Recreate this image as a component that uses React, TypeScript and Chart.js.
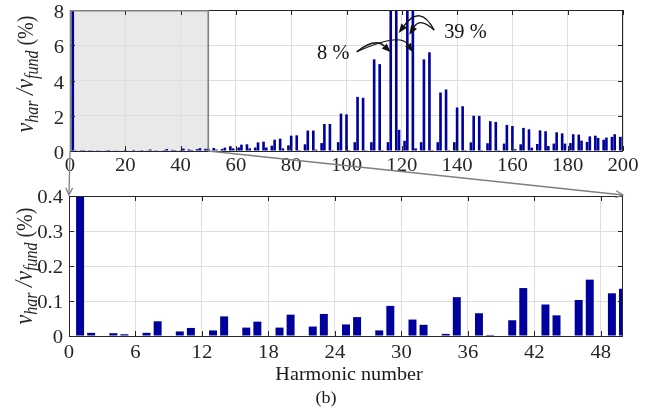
import { useEffect, useRef } from "react";
import { Chart, registerables } from "chart.js";

Chart.register(...registerables);

// Harmonic orders 1-50 (no triplen orders) and amplitude in % of the fundamental
const lowOrders = [1, 2, 4, 5, 7, 8, 10, 11, 13, 14, 16, 17, 19, 20, 22, 23, 25, 26, 28, 29, 31, 32, 34, 35, 37, 38, 40, 41, 43, 44, 46, 47, 49, 50];
const lowLevels = [100, 0.009, 0.008, 0.005, 0.009, 0.042, 0.013, 0.023, 0.016, 0.056, 0.024, 0.041, 0.024, 0.061, 0.027, 0.063, 0.033, 0.054, 0.016, 0.086, 0.047, 0.032, 0.006, 0.111, 0.065, 0.003, 0.045, 0.137, 0.09, 0.059, 0.103, 0.161, 0.122, 0.135];

// Harmonic orders 52-200 and amplitude in % of the fundamental
const highOrders = [
  52, 53, 55, 56, 58, 59, 61, 62, 64, 65,
  67, 68, 70, 71, 73, 74, 76, 77, 79, 80,
  82, 83, 85, 86, 88, 89, 91, 92, 94, 95,
  97, 98, 100, 101, 103, 104, 106, 107, 109, 110,
  112, 113, 115, 116, 118, 119, 121, 122, 124, 125,
  127, 128, 130, 131, 133, 134, 136, 137, 139, 140,
  142, 143, 145, 146, 148, 149, 151, 152, 154, 155,
  157, 158, 160, 161, 163, 164, 166, 167, 169, 170,
  172, 173, 175, 176, 178, 179, 181, 182, 184, 185,
  187, 188, 190, 191, 193, 194, 196, 197, 199, 200,
];
const highLevels = [
  0.17, 0.08, 0.12, 0.19, 0.27, 0.15, 0.2, 0.36, 0.38, 0.15,
  0.2, 0.49, 0.53, 0.2, 0.3, 0.64, 0.7, 0.15, 0.32, 0.87,
  0.89, 0.05, 0.38, 1.16, 1.16, 0.08, 0.45, 1.53, 1.53, 0.05,
  0.5, 2.12, 2.08, 0.05, 0.5, 3.07, 3.02, 0.05, 0.5, 5.2,
  4.93, 0.05, 0.5, 8, 39, 1.2, 0.58, 39, 8, 0.15,
  0.5, 5.2, 5.6, 0.05, 0.5, 3.32, 3.49, 0.05, 0.5, 2.47,
  2.54, 0.05, 0.49, 2.0, 1.99, 0.05, 0.44, 1.69, 1.65, 0.05,
  0.42, 1.48, 1.42, 0.1, 0.38, 1.31, 1.23, 0.19, 0.4, 1.17,
  1.12, 0.28, 0.42, 1.06, 1.0, 0.42, 0.45, 0.95, 0.93, 0.59,
  0.51, 0.83, 0.87, 0.74, 0.64, 0.76, 0.8, 0.95, 0.8, 0.83,
];

const topXTicks = [0, 20, 40, 60, 80, 100, 120, 140, 160, 180, 200];
const topYTicks = [0, 2, 4, 6, 8];
const zoomXTicks = [0, 6, 12, 18, 24, 30, 36, 42, 48];
const zoomYTicks = [0, 0.1, 0.2, 0.3, 0.4];
const zoomRange = [0, 50];

const W = 653;
const H = 410;
const SERIF = '"Liberation Serif", "Times New Roman", serif';
const INK = "#262626";
const BAR = "#00009c";
const GRID = "#dedede";
const FRAME_GRAY = "#808080";
const TICK_LEN = 5;

const orders = [...lowOrders, ...highOrders];
const levels = [...lowLevels, ...highLevels];
const spectrum = orders.map((h, i) => ({ x: h, y: levels[i] }));

function putText(ctx: CanvasRenderingContext2D, text: string, x: number, y: number, size: number, align: CanvasTextAlign, sx: number, color = INK, italic = false) {
  ctx.save();
  ctx.translate(x, y);
  ctx.scale(sx, 1);
  ctx.font = `${italic ? "italic " : ""}${size}px ${SERIF}`;
  ctx.textAlign = align;
  ctx.textBaseline = "alphabetic";
  ctx.fillStyle = color;
  ctx.fillText(text, 0, 0);
  ctx.restore();
}

// rotated "v_har / v_fund (%)" axis title
function drawRatioTitle(ctx: CanvasRenderingContext2D, baseX: number, centerY: number) {
  const parts = [
    { t: "v", size: 22, italic: true, shift: 0 },
    { t: "har", size: 16, italic: true, shift: 4 },
    { t: " /", size: 22, italic: true, shift: 0 },
    { t: "v", size: 22, italic: true, shift: 0 },
    { t: "fund", size: 16, italic: true, shift: 4 },
    { t: " (%)", size: 20, italic: false, shift: 0 },
  ];
  ctx.save();
  ctx.translate(baseX, centerY);
  ctx.rotate(-Math.PI / 2);
  ctx.scale(1, 1.15);
  ctx.textBaseline = "alphabetic";
  ctx.textAlign = "left";
  ctx.fillStyle = INK;
  const widths = parts.map((p) => {
    ctx.font = `${p.italic ? "italic " : ""}${p.size}px ${SERIF}`;
    return ctx.measureText(p.t).width;
  });
  let x = -widths.reduce((a, b) => a + b, 0) / 2;
  parts.forEach((p, i) => {
    ctx.font = `${p.italic ? "italic " : ""}${p.size}px ${SERIF}`;
    ctx.fillText(p.t, x, p.shift);
    x += widths[i];
  });
  ctx.restore();
}

function drawFrame(chart: any, xTicks: number[], yTicks: number[], fmtY: (v: number) => string, xLabelDy: number, yLabelDy: number) {
  const ctx: CanvasRenderingContext2D = chart.ctx;
  const { left, right, top, bottom } = chart.chartArea;
  const xs = chart.scales.x;
  const ys = chart.scales.y;
  ctx.save();
  ctx.strokeStyle = INK;
  ctx.lineWidth = 1;
  ctx.strokeRect(Math.round(left) + 0.5, Math.round(top) + 0.5, Math.round(right - left) - 1, Math.round(bottom - top));
  ctx.beginPath();
  for (const v of xTicks) {
    const px = Math.round(xs.getPixelForValue(v)) + 0.5;
    ctx.moveTo(px, bottom);
    ctx.lineTo(px, bottom - TICK_LEN);
    ctx.moveTo(px, top);
    ctx.lineTo(px, top + TICK_LEN);
  }
  for (const v of yTicks) {
    const py = Math.round(ys.getPixelForValue(v)) + 0.5;
    ctx.moveTo(left, py);
    ctx.lineTo(left + TICK_LEN, py);
    ctx.moveTo(right, py);
    ctx.lineTo(right - TICK_LEN, py);
  }
  ctx.stroke();
  ctx.restore();
  for (const v of xTicks) {
    putText(ctx, String(v), xs.getPixelForValue(v), bottom + xLabelDy, 18, "center", 1.15);
  }
  for (const v of yTicks) {
    putText(ctx, fmtY(v), left - 6, ys.getPixelForValue(v) + yLabelDy, 18, "right", 1.15);
  }
}

function curvedArrow(ctx: CanvasRenderingContext2D, x0: number, y0: number, cx: number, cy: number, x1: number, y1: number) {
  const ang = Math.atan2(y1 - cy, x1 - cx);
  const L = 9;
  const hw = 3.5;
  const bx = x1 - L * Math.cos(ang);
  const by = y1 - L * Math.sin(ang);
  ctx.beginPath();
  ctx.moveTo(x0, y0);
  ctx.quadraticCurveTo(cx, cy, bx, by);
  ctx.stroke();
  ctx.beginPath();
  ctx.moveTo(x1, y1);
  ctx.lineTo(bx + hw * Math.sin(ang), by - hw * Math.cos(ang));
  ctx.lineTo(bx - hw * Math.sin(ang), by + hw * Math.cos(ang));
  ctx.closePath();
  ctx.fill();
}

function openHead(ctx: CanvasRenderingContext2D, fx: number, fy: number, tx: number, ty: number) {
  const ang = Math.atan2(ty - fy, tx - fx);
  const L = 8;
  const spread = 0.45;
  ctx.beginPath();
  ctx.moveTo(tx - L * Math.cos(ang - spread), ty - L * Math.sin(ang - spread));
  ctx.lineTo(tx, ty);
  ctx.lineTo(tx - L * Math.cos(ang + spread), ty - L * Math.sin(ang + spread));
  ctx.stroke();
}

function panelConfig(o: {
  xMax: number;
  yMax: number;
  xTicks: number[];
  yTicks: number[];
  padding: { left: number; right: number; top: number; bottom: number };
  barPercentage: number;
  plugin: any;
}): any {
  const tickSetter = (list: number[]) => (s: any) => {
    s.ticks = list.map((v) => ({ value: v }));
  };
  return {
    type: "bar",
    data: {
      datasets: [
        {
          data: spectrum,
          backgroundColor: BAR,
          borderWidth: 0,
          barPercentage: o.barPercentage,
          categoryPercentage: 1,
        },
      ],
    },
    options: {
      animation: false,
      responsive: false,
      maintainAspectRatio: false,
      events: [],
      layout: { padding: o.padding },
      plugins: { legend: { display: false }, tooltip: { enabled: false } },
      scales: {
        x: {
          type: "linear",
          min: 0,
          max: o.xMax,
          offset: false,
          grid: { offset: false, color: GRID, lineWidth: 1, drawTicks: false },
          border: { display: false },
          ticks: { display: false },
          afterBuildTicks: tickSetter(o.xTicks),
          afterFit: (s: any) => {
            s.height = 0;
          },
        },
        y: {
          type: "linear",
          min: 0,
          max: o.yMax,
          grid: { color: GRID, lineWidth: 1, drawTicks: false },
          border: { display: false },
          ticks: { display: false },
          afterBuildTicks: tickSetter(o.yTicks),
          afterFit: (s: any) => {
            s.width = 0;
          },
        },
      },
    },
    plugins: [o.plugin],
  };
}

export default function App() {
  const fullRef = useRef<HTMLCanvasElement>(null);
  const zoomRef = useRef<HTMLCanvasElement>(null);

  useEffect(() => {
    // full spectrum, 0-200
    const fullPlugin = {
      id: "fullSpectrumDecor",
      beforeDraw(chart: any) {
        const ctx: CanvasRenderingContext2D = chart.ctx;
        const { top, bottom } = chart.chartArea;
        const x0 = chart.scales.x.getPixelForValue(zoomRange[0]);
        const x1 = chart.scales.x.getPixelForValue(zoomRange[1]);
        ctx.save();
        ctx.fillStyle = "#e9e9e9";
        ctx.fillRect(x0, top, x1 - x0, bottom - top);
        ctx.restore();
      },
      afterDraw(chart: any) {
        const ctx: CanvasRenderingContext2D = chart.ctx;
        const xs = chart.scales.x;
        const ys = chart.scales.y;
        const { left, top, bottom } = chart.chartArea;
        drawFrame(chart, topXTicks, topYTicks, (v) => String(v), 20, 8);

        // highlighted window outline
        const x1 = xs.getPixelForValue(zoomRange[1]);
        ctx.save();
        ctx.strokeStyle = FRAME_GRAY;
        ctx.lineWidth = 1.6;
        ctx.beginPath();
        ctx.moveTo(left + 0.5, bottom);
        ctx.lineTo(left + 0.5, top + 0.8);
        ctx.lineTo(x1, top + 0.8);
        ctx.lineTo(x1, bottom);
        ctx.stroke();
        ctx.restore();

        drawRatioTitle(ctx, 33, 74);

        // callouts for the clipped carrier sidebands
        const P = (h: number, v: number): [number, number] => [xs.getPixelForValue(h), ys.getPixelForValue(v)];
        ctx.save();
        ctx.strokeStyle = "#111";
        ctx.fillStyle = "#111";
        ctx.lineWidth = 1.3;
        const t8 = P(103.7, 5.63);
        const t39 = P(131.7, 6.86);
        const a = P(124, 5.6), ac = P(119.4, 6.75);
        const b = P(116, 5.6), bc = P(110.4, 6.45);
        const c = P(118.9, 6.7), cc = P(126.7, 8.35);
        const d = P(122.7, 6.6), dc = P(126.7, 7.6);
        curvedArrow(ctx, t8[0], t8[1], ac[0], ac[1], a[0], a[1]);
        curvedArrow(ctx, t8[0], t8[1], bc[0], bc[1], b[0], b[1]);
        curvedArrow(ctx, t39[0], t39[1], cc[0], cc[1], c[0], c[1]);
        curvedArrow(ctx, t39[0], t39[1], dc[0], dc[1], d[0], d[1]);
        ctx.restore();
        const l8 = P(95.2, 5.21);
        const l39 = P(143, 6.39);
        putText(ctx, "8 %", l8[0], l8[1], 21, "center", 0.97, "#111");
        putText(ctx, "39 %", l39[0], l39[1], 21, "center", 0.97, "#111");
      },
    };

    const full = new Chart(
      fullRef.current as HTMLCanvasElement,
      panelConfig({
        xMax: 200,
        yMax: 8,
        xTicks: topXTicks,
        yTicks: topYTicks,
        padding: { left: 70, right: 30, top: 10, bottom: 259 },
        barPercentage: 0.95,
        plugin: fullPlugin,
      })
    );

    // magnified view of orders 0-50
    const zoomPlugin = {
      id: "zoomDecor",
      afterDraw(chart: any) {
        const ctx: CanvasRenderingContext2D = chart.ctx;
        const { left, right, top, bottom } = chart.chartArea;
        drawFrame(chart, zoomXTicks, zoomYTicks, (v) => (v === 0 ? "0" : v.toFixed(1)), 21.5, 6.5);
        drawRatioTitle(ctx, 32, 266);
        const mid = (left + right) / 2;
        putText(ctx, "Harmonic number", mid + 3, 380, 18.5, "center", 1.09, "#1a1a1a");
        putText(ctx, "(b)", mid - 20, 403, 16.5, "center", 1.1, "#1a1a1a");

        // connectors from the highlighted window to this panel
        const fx = full.scales.x;
        const fBottom = full.chartArea.bottom;
        const sx0 = fx.getPixelForValue(zoomRange[0]);
        const sx1 = fx.getPixelForValue(zoomRange[1]);
        ctx.save();
        ctx.strokeStyle = FRAME_GRAY;
        ctx.lineWidth = 1.3;
        ctx.beginPath();
        ctx.moveTo(sx0, fBottom);
        ctx.lineTo(left, top - 1);
        ctx.moveTo(sx1, fBottom);
        ctx.lineTo(right, top - 1);
        ctx.stroke();
        openHead(ctx, sx0, fBottom, left, top - 1);
        openHead(ctx, sx1, fBottom, right, top - 1);
        ctx.restore();
      },
    };

    const zoom = new Chart(
      zoomRef.current as HTMLCanvasElement,
      panelConfig({
        xMax: zoomRange[1],
        yMax: 0.4,
        xTicks: zoomXTicks,
        yTicks: zoomYTicks,
        padding: { left: 69, right: 30, top: 196, bottom: 74 },
        barPercentage: 0.72,
        plugin: zoomPlugin,
      })
    );

    return () => {
      zoom.destroy();
      full.destroy();
    };
  }, []);

  return (
    <div style={{ position: "absolute", left: 0, top: 0, width: W, height: H, background: "#ffffff" }}>
      <canvas ref={fullRef} width={W} height={H} style={{ position: "absolute", left: 0, top: 0, width: W, height: H }} />
      <canvas ref={zoomRef} width={W} height={H} style={{ position: "absolute", left: 0, top: 0, width: W, height: H }} />
    </div>
  );
}
